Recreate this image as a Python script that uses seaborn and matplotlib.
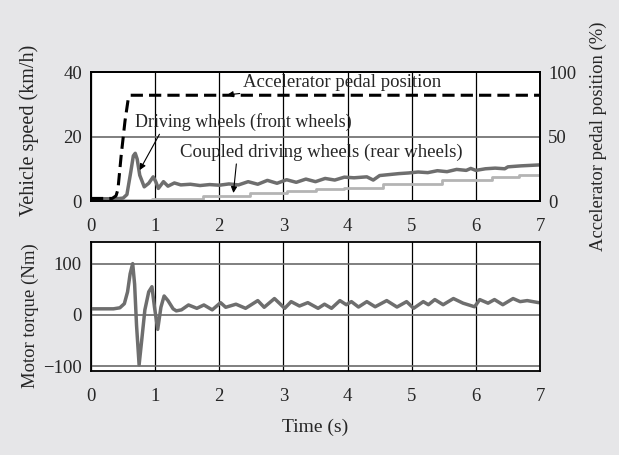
import matplotlib.pyplot as plt
import pandas as pd
import seaborn as sns

# Data
front_t = [0, 0.4, 0.5, 0.56, 0.62, 0.66, 0.69, 0.72, 0.76, 0.83, 0.9, 0.97, 1.01, 1.05, 1.13, 1.2, 1.3, 1.4,
           1.55, 1.7, 1.85, 2.0, 2.15, 2.3, 2.45, 2.6, 2.75, 2.9, 3.05, 3.2, 3.35, 3.5, 3.65, 3.8, 3.95, 4.1,
           4.3, 4.4, 4.5, 4.65, 4.8, 4.95, 5.1, 5.25, 5.4, 5.55, 5.7, 5.85, 5.92, 6.0, 6.15, 6.3, 6.45, 6.5,
           6.7, 6.9, 7.0]
front_v = [0.7, 0.7, 0.9, 2.0, 9.0, 14.0, 14.8, 13.0, 8.0, 4.4, 5.5, 7.5, 6.0, 3.9, 6.0, 4.6, 5.6, 5.0,
           5.2, 4.8, 5.1, 4.9, 5.3, 5.0, 6.0, 5.2, 6.4, 5.5, 6.6, 5.8, 6.8, 6.0, 7.0, 6.5, 7.4, 7.2,
           7.5, 6.5, 7.9, 8.2, 8.5, 8.7, 9.0, 8.8, 9.4, 9.1, 9.8, 9.5, 10.1, 9.5, 10.0, 10.2, 10.0, 10.6,
           10.9, 11.1, 11.2]

rear_t = [0, 0.95, 1.74, 2.48, 3.05, 3.5, 3.95, 4.55, 5.47, 6.25, 6.67, 7.0]
rear_v = [0.3, 0.6, 1.6, 2.5, 3.1, 3.7, 4.1, 5.2, 6.5, 7.5, 8.1, 8.1]

pedal_t = [0, 0.33, 0.39, 0.42, 0.47, 0.53, 0.58, 0.61, 7.0]
pedal_p = [2, 2, 4, 9, 35, 62, 79, 82, 82]

torque_t = [0, 0.35, 0.45, 0.52, 0.57, 0.61, 0.65, 0.68, 0.71, 0.75, 0.79, 0.84, 0.9, 0.95, 0.99, 1.04, 1.09,
            1.14, 1.2, 1.28, 1.33, 1.41, 1.52, 1.65, 1.76, 1.89, 2.02, 2.1, 2.26, 2.41, 2.6, 2.7, 2.86, 3.02,
            3.12, 3.25, 3.38, 3.54, 3.64, 3.75, 3.88, 3.98, 4.06, 4.17, 4.3, 4.43, 4.61, 4.77, 4.92, 5.03,
            5.18, 5.26, 5.36, 5.49, 5.65, 5.8, 5.98, 6.06, 6.19, 6.29, 6.42, 6.58, 6.69, 6.8, 6.98]
torque_T = [12, 12, 14, 22, 45, 80, 100, 60, -20, -97, -50, 10, 45, 55, 15, -28, 15,
            37, 28, 12, 8, 10, 19.5, 13, 19.5, 10, 24, 15, 21, 13, 28, 15, 32, 13,
            26, 17.5, 24, 13, 21, 13, 28, 20, 26, 15.5, 26, 16, 28, 15.5, 26, 13,
            26, 20, 30, 20, 32, 23, 16, 30, 23, 30, 20, 32, 26, 28, 24]

df_front = pd.DataFrame({'t': front_t, 'v': front_v})
df_rear = pd.DataFrame({'t': rear_t, 'v': rear_v})
df_pedal = pd.DataFrame({'t': pedal_t, 'p': pedal_p})
df_torque = pd.DataFrame({'t': torque_t, 'T': torque_T})

sns.set_style('white')
plt.rcParams['font.family'] = ['Liberation Serif', 'DejaVu Serif']
plt.rcParams['font.size'] = 13.5

fig = plt.figure(figsize=(6.19, 4.55), dpi=100, facecolor='#e6e6e8')
ax = fig.add_axes([0.147, 0.5582, 0.7254, 0.2835])
ax2 = ax.twinx()
axb = fig.add_axes([0.147, 0.1846, 0.7254, 0.2835])

# Top panel: vehicle speed + pedal position
sns.lineplot(x='t', y='v', data=df_rear, ax=ax, color='#b4b4b4', lw=2.0, drawstyle='steps-post')
sns.lineplot(x='t', y='v', data=df_front, ax=ax, color='#6e6e6e', lw=2.5)
sns.lineplot(x='t', y='p', data=df_pedal, ax=ax2, color='black', lw=2.2, dashes=False)
ax2.lines[0].set_dashes((4, 2))

ax.set(xlim=(0, 7), ylim=(0, 40), xlabel='')
ax.set_ylabel('Vehicle speed (km/h)', fontsize=14.5)
ax.set_yticks([0, 20, 40])
ax.set_xticks(range(8))
ax2.set_ylim(0, 100)
ax2.set_ylabel('Accelerator pedal position (%)', fontsize=13.4)
ax2.set_yticks([0, 50, 100])

arrow = dict(arrowstyle='-|>', color='black', lw=0.8, mutation_scale=9, shrinkA=0, shrinkB=0)
ax.annotate('Accelerator pedal position', xy=(2.12, 32.9), xytext=(2.37, 36.9), va='center', fontsize=13.5,
            arrowprops=arrow)
ax.annotate('Driving wheels (front wheels)', xy=(0.76, 9.6), xytext=(0.69, 24.5), va='center', fontsize=13,
            arrowprops=dict(arrow, relpos=(0.12, 0)))
ax.annotate('Coupled driving wheels (rear wheels)', xy=(2.22, 2.5), xytext=(1.39, 15.2), va='center',
            fontsize=13.5, arrowprops=dict(arrow, relpos=(0.2, 0)))

# Bottom panel: motor torque
sns.lineplot(x='t', y='T', data=df_torque, ax=axb, color='#6e6e6e', lw=2.5)
axb.set(xlim=(0, 7), ylim=(-109, 142))
axb.set_xlabel('Time (s)', fontsize=14)
axb.set_ylabel('Motor torque (Nm)', fontsize=13.5)
axb.set_yticks([-100, 0, 100])
axb.set_xticks(range(8))

for a in (ax, axb):
    a.grid(True, axis='x', color='black', lw=0.9)
    a.grid(True, axis='y', color='#6a6a6a', lw=1.2)
    a.set_axisbelow(True)
    a.tick_params(axis='x', length=0, pad=12)
    a.tick_params(axis='y', length=0, pad=6.5)
ax.yaxis.set_label_coords(-0.115, 0.55)
axb.yaxis.set_label_coords(-0.115, 0.43)
ax2.tick_params(axis='y', length=0, pad=6)
ax2.yaxis.set_label_coords(1.111, 0.5)
ax2.grid(False)
axb.xaxis.labelpad = 10

for a in (ax, ax2, axb):
    for s in a.spines.values():
        s.set_color('black')
        s.set_linewidth(1.3)

fig.savefig('out.png', dpi=100, facecolor=fig.get_facecolor())
